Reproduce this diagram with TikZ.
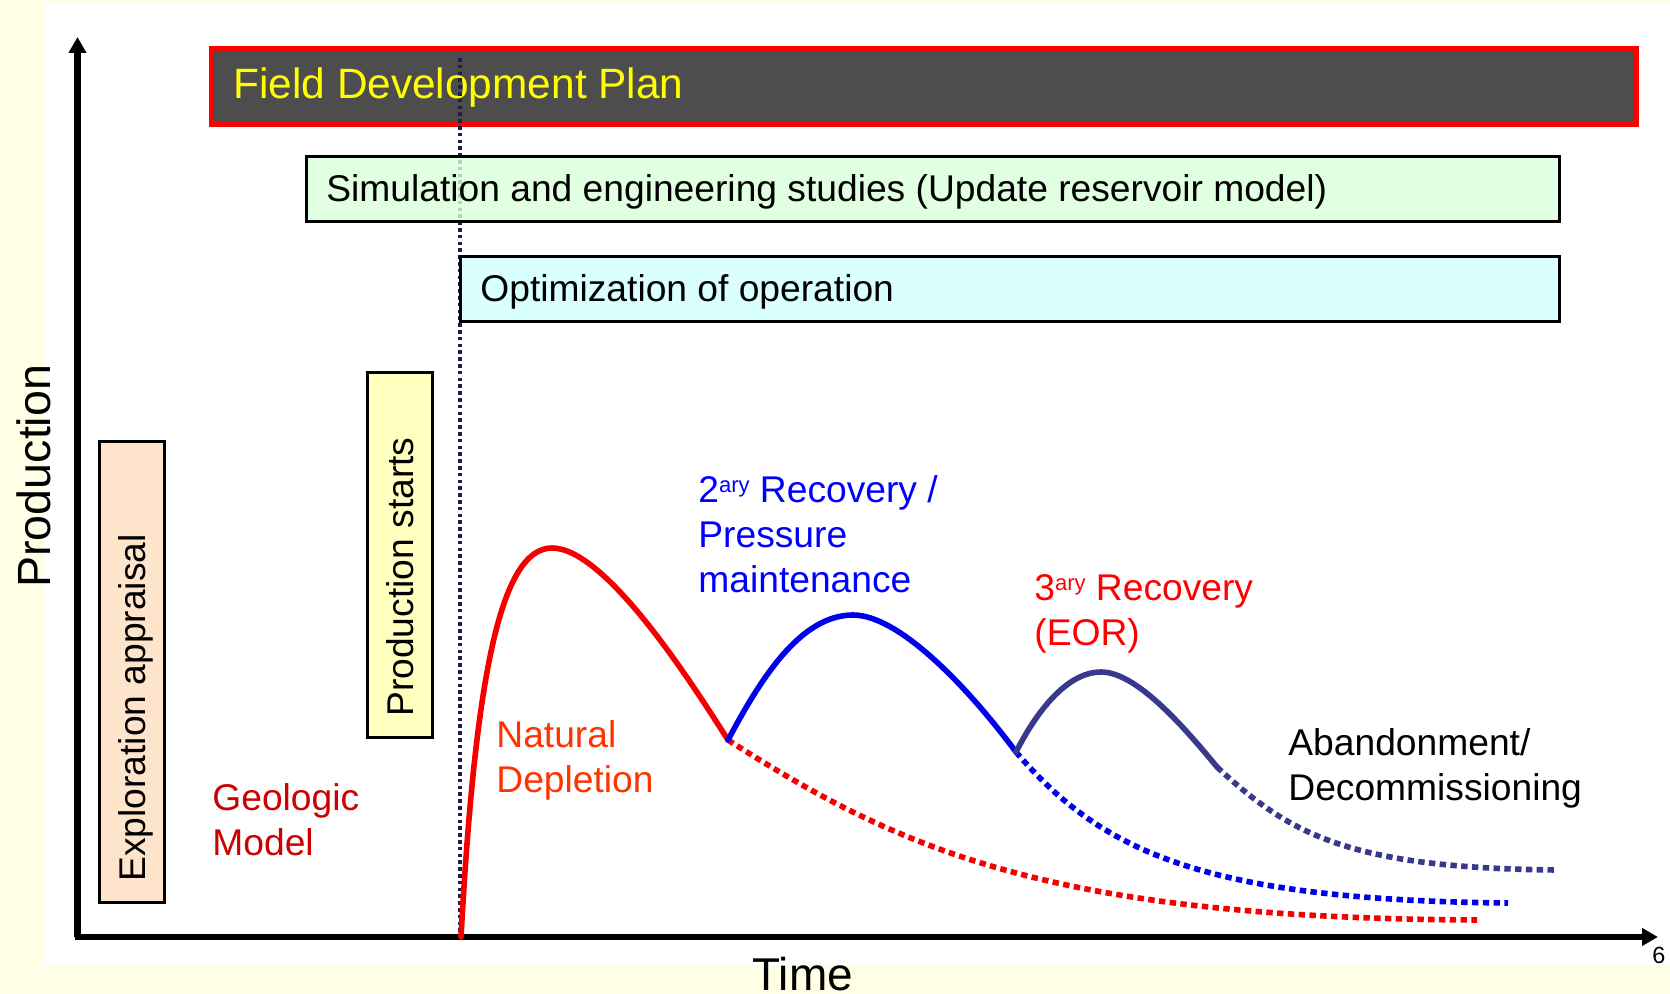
\documentclass[tikz,border=0pt]{standalone}
\usepackage{fontspec}
\setmainfont{Liberation Sans}
\usetikzlibrary{arrows.meta}

\definecolor{pagebg}{RGB}{255,255,229}
\definecolor{fdpgray}{RGB}{77,77,77}
\definecolor{fdpyellow}{RGB}{255,255,0}
\definecolor{simgreen}{RGB}{218,255,218}
\definecolor{optcyan}{RGB}{217,255,255}
\definecolor{startyellow}{RGB}{255,255,191}
\definecolor{explpeach}{RGB}{255,228,204}
\definecolor{geored}{RGB}{204,0,0}
\definecolor{natred}{RGB}{255,51,0}
\definecolor{secblue}{RGB}{0,0,255}
\definecolor{eorred}{RGB}{255,0,0}
\definecolor{curvered}{RGB}{245,0,0}
\definecolor{curveblue}{RGB}{0,0,235}
\definecolor{curvenavy}{RGB}{56,56,140}
\definecolor{startline}{RGB}{30,30,85}

\newcommand{\bodyfont}{\fontsize{18.6pt}{22.5pt}\selectfont}
\newcommand{\ordsup}[1]{\raisebox{5pt}{\fontsize{11pt}{11pt}\selectfont #1}}

\tikzset{
  axisline/.style={line width=3.3pt, -{Triangle[length=8pt,width=8.5pt]}},
  phasebox/.style={draw=black, line width=1.4pt, inner sep=0pt},
  label/.style={inner sep=0pt, anchor=base west, font=\bodyfont, align=left},
  solidcurve/.style={line width=2.8pt, line cap=round},
  dotcurve/.style={line width=2.8pt, dash pattern=on 3.2pt off 2.2pt},
}

\begin{document}
\begin{tikzpicture}[x=0.5pt, y=-0.5pt]
  \useasboundingbox (0,0) rectangle (1670,994);
  % slide background and white plotting sheet
  \fill[pagebg] (0,0) rectangle (1670,994);
  \fill[white] (44,4) rectangle (1670,965);

  % axes
  \coordinate (origin) at (77.5,937);
  \coordinate (ytop) at (77.5,37);
  \coordinate (xend) at (1658,937);
  \draw[axisline] (origin) -- (ytop);
  \draw[axisline] (75,937) -- (xend);
  \node[inner sep=0pt, rotate=90, anchor=base west, font=\fontsize{23.3pt}{28pt}\selectfont] (prodlabel) at (50,588) {Production};
  \node[inner sep=0pt, anchor=base west, font=\fontsize{23pt}{28pt}\selectfont] (timelabel) at (752,990) {Time};
  \node[inner sep=0pt, anchor=base west, font=\fontsize{11.7pt}{14pt}\selectfont] (pagenum) at (1652,963) {6};

  % vertical phase boxes
  \node[phasebox, fill=explpeach, minimum width=32.6pt, minimum height=230.6pt] (explbox) at (132,672) {};
  \node[inner sep=0pt, rotate=90, anchor=base west, font=\bodyfont] (expltext) at (145,882) {Exploration appraisal};
  \node[phasebox, fill=startyellow, minimum width=32.6pt, minimum height=182.6pt] (startbox) at (400,555) {};
  \node[inner sep=0pt, rotate=90, anchor=base west, font=\bodyfont] (starttext) at (413,717) {Production starts};

  % field development plan banner
  \node[draw=red, line width=2.5pt, fill=fdpgray, inner sep=0pt, minimum width=712.5pt, minimum height=38pt] (fdpbox) at (924,86.5) {};
  \node[inner sep=0pt, anchor=base west, text=fdpyellow, font=\fontsize{21.2pt}{25pt}\selectfont] (fdptext) at (233,99) {Field Development Plan};

  % start-of-production marker
  \coordinate (markertop) at (460,58);
  \coordinate (markerbot) at (460,937);
  \draw[startline, line width=1.8pt, dash pattern=on 1.8pt off 1.6pt] (markertop) -- (markerbot);

  % horizontal study boxes
  \node[phasebox, fill=simgreen, fill opacity=0.8, text opacity=1, minimum width=626.6pt, minimum height=32.6pt] (simbox) at (933,189) {};
  \node[label] (simtext) at (326,202) {Simulation and engineering studies (Update reservoir model)};
  \node[phasebox, fill=optcyan, minimum width=549.6pt, minimum height=32.6pt] (optbox) at (1010,289) {};
  \node[label] (opttext) at (480,302) {Optimization of operation};

  % production profile
  \coordinate (prodstart) at (461,937);
  \coordinate (peakone) at (552,548);
  \coordinate (jointone) at (728,740);
  \coordinate (peaktwo) at (853,615);
  \coordinate (jointtwo) at (1016,752);
  \coordinate (peakthree) at (1101,672);
  \coordinate (jointthree) at (1217,767);
  \coordinate (tailone) at (1477,920);
  \coordinate (tailtwo) at (1508,903);
  \coordinate (tailthree) at (1557,870);

  \draw[dotcurve, curvered] (jointone) .. controls (900,850) and (1050,918) .. (tailone);
  \draw[dotcurve, curveblue] (jointtwo) .. controls (1100,850) and (1200,900) .. (tailtwo);
  \draw[dotcurve, curvenavy] (jointthree) .. controls (1290,835) and (1350,868) .. (tailthree);

  \draw[solidcurve, curvered] (prodstart) .. controls (475,680) and (500,548) .. (peakone)
        .. controls (605,548) and (690,680) .. (jointone);
  \draw[solidcurve, curveblue] (jointone) .. controls (760,680) and (800,615) .. (peaktwo)
        .. controls (900,615) and (970,690) .. (jointtwo);
  \draw[solidcurve, curvenavy] (jointtwo) .. controls (1040,705) and (1070,672) .. (peakthree)
        .. controls (1135,672) and (1180,722) .. (jointthree);

  % stage labels (anchored at the baseline of their last line)
  \node[label, text=geored] (geolabel) at (212,855) {Geologic\\Model};
  \node[label, text=natred] (natlabel) at (496,792) {Natural\\Depletion};
  \node[label, text=secblue] (seclabel) at (698,592) {2\ordsup{ary} Recovery /\\Pressure\\maintenance};
  \node[label, text=eorred] (eorlabel) at (1034,645) {3\ordsup{ary} Recovery\\(EOR)};
  \node[label, text=black] (abandlabel) at (1288,800) {Abandonment/\\Decommissioning};
\end{tikzpicture}
\end{document}
